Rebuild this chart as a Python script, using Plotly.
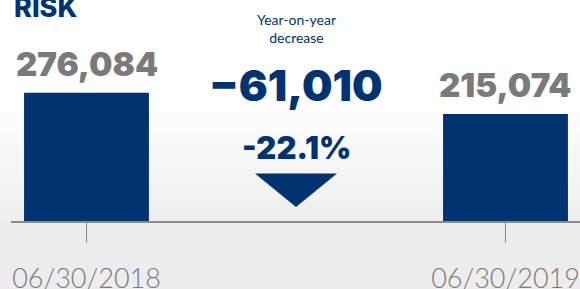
import plotly.graph_objects as go

# ---- data ----
DATES = ["06/30/2018", "06/30/2019"]
VALUES = [276084, 215074]
TITLE_TEXT = "RISK"
CHANGE_LABEL = "Year-on-year<br>decrease"

# ---- style constants ----
NAVY = "#00336f"
GREY_NUM = "#7a7a7a"
BASELINE = -91400          # visual baseline of the infographic bars
Y_TOP = 541600
W, H = 580, 289
ML, MB = 11, 68
PH = H - MB                # plot height in px


def py(px):
    """pixel y (from top of figure) -> paper y"""
    return (PH - px) / PH


def pxx(px):
    return (px - ML) / (W - ML)


fig = go.Figure()

# background gradient strips
shapes = []
g0, g1 = 100, 221
n = 30
for i in range(n):
    t = (i + 0.5) / n
    v = int(round(255 - 17 * t))
    col = f"rgb({v},{v},{v})"
    y0 = g0 + (g1 - g0) * i / n
    y1 = g0 + (g1 - g0) * (i + 1) / n + 0.6
    shapes.append(dict(type="rect", xref="paper", yref="paper",
                       x0=-0.05, x1=1.05, y0=py(y1), y1=py(y0),
                       fillcolor=col, line=dict(width=0), layer="below"))
shapes.append(dict(type="rect", xref="paper", yref="paper",
                   x0=-0.05, x1=1.05, y0=py(g0), y1=1.05,
                   fillcolor="#ffffff", line=dict(width=0), layer="below"))

# down arrow triangle
shapes.append(dict(type="path", xref="x", yref="paper",
                   path=f"M 0.402 {py(173.5)} L 0.598 {py(173.5)} L 0.5 {py(207)} Z",
                   fillcolor=NAVY, line=dict(width=0), layer="above"))

fig.add_trace(go.Bar(
    x=DATES,
    y=[v - BASELINE for v in VALUES],
    base=BASELINE,
    width=0.298,
    marker=dict(color=NAVY, line=dict(width=0)),
    hoverinfo="skip",
))

diff = VALUES[1] - VALUES[0]
pct = diff / VALUES[0] * 100

annotations = []
for d, v in zip(DATES, VALUES):
    annotations.append(dict(
        x=d, y=v, xref="x", yref="y", yanchor="bottom", yshift=7,
        text=f"{v:,}", showarrow=False,
        font=dict(family="Inter", size=33, color=GREY_NUM, weight=900)))

annotations += [
    dict(x=0.5, xref="x", y=py(28), yref="paper", yanchor="middle",
         text=CHANGE_LABEL, showarrow=False,
         font=dict(family="Lato", size=14, color=NAVY)),
    dict(x=0.5, xref="x", y=py(85), yref="paper", yanchor="middle",
         text=f"{diff:,}".replace("-", "\u2212"), showarrow=False,
         font=dict(family="Inter", size=43, color=NAVY, weight=900)),
    dict(x=0.5, xref="x", y=py(147), yref="paper", yanchor="middle",
         text=f"{pct:.1f}%", showarrow=False,
         font=dict(family="Inter", size=31, color=NAVY, weight=900)),
    dict(x=pxx(12), xref="paper", y=py(8), yref="paper", xanchor="left",
         yanchor="middle", text=TITLE_TEXT, showarrow=False,
         font=dict(family="Inter", size=27, color=NAVY, weight=800)),
]

fig.update_layout(
    width=W, height=H, autosize=False,
    margin=dict(l=ML, r=0, t=0, b=MB, pad=0, autoexpand=False),
    paper_bgcolor="#ededed",
    plot_bgcolor="rgba(0,0,0,0)",
    showlegend=False,
    hovermode=False,
    shapes=shapes,
    annotations=annotations,
    xaxis=dict(
        type="category", range=[-0.1802, 1.1778],
        automargin=False,
        showline=True, linecolor="#8a8a8a", linewidth=1.5,
        ticks="outside", ticklen=20, tickwidth=1.5, tickcolor="#8a8a8a",
        showgrid=False, zeroline=False,
        tickfont=dict(family="Lato", size=27, color="#7a7a7a", weight=300),
        ticklabelstandoff=13,
    ),
    yaxis=dict(range=[BASELINE, Y_TOP], visible=False, showgrid=False,
               zeroline=False, automargin=False),
)

fig.write_html("out.html",
               config={"displayModeBar": False, "staticPlot": True},
               post_script="document.body.style.margin='0';"
                           "document.body.style.overflow='hidden';")
